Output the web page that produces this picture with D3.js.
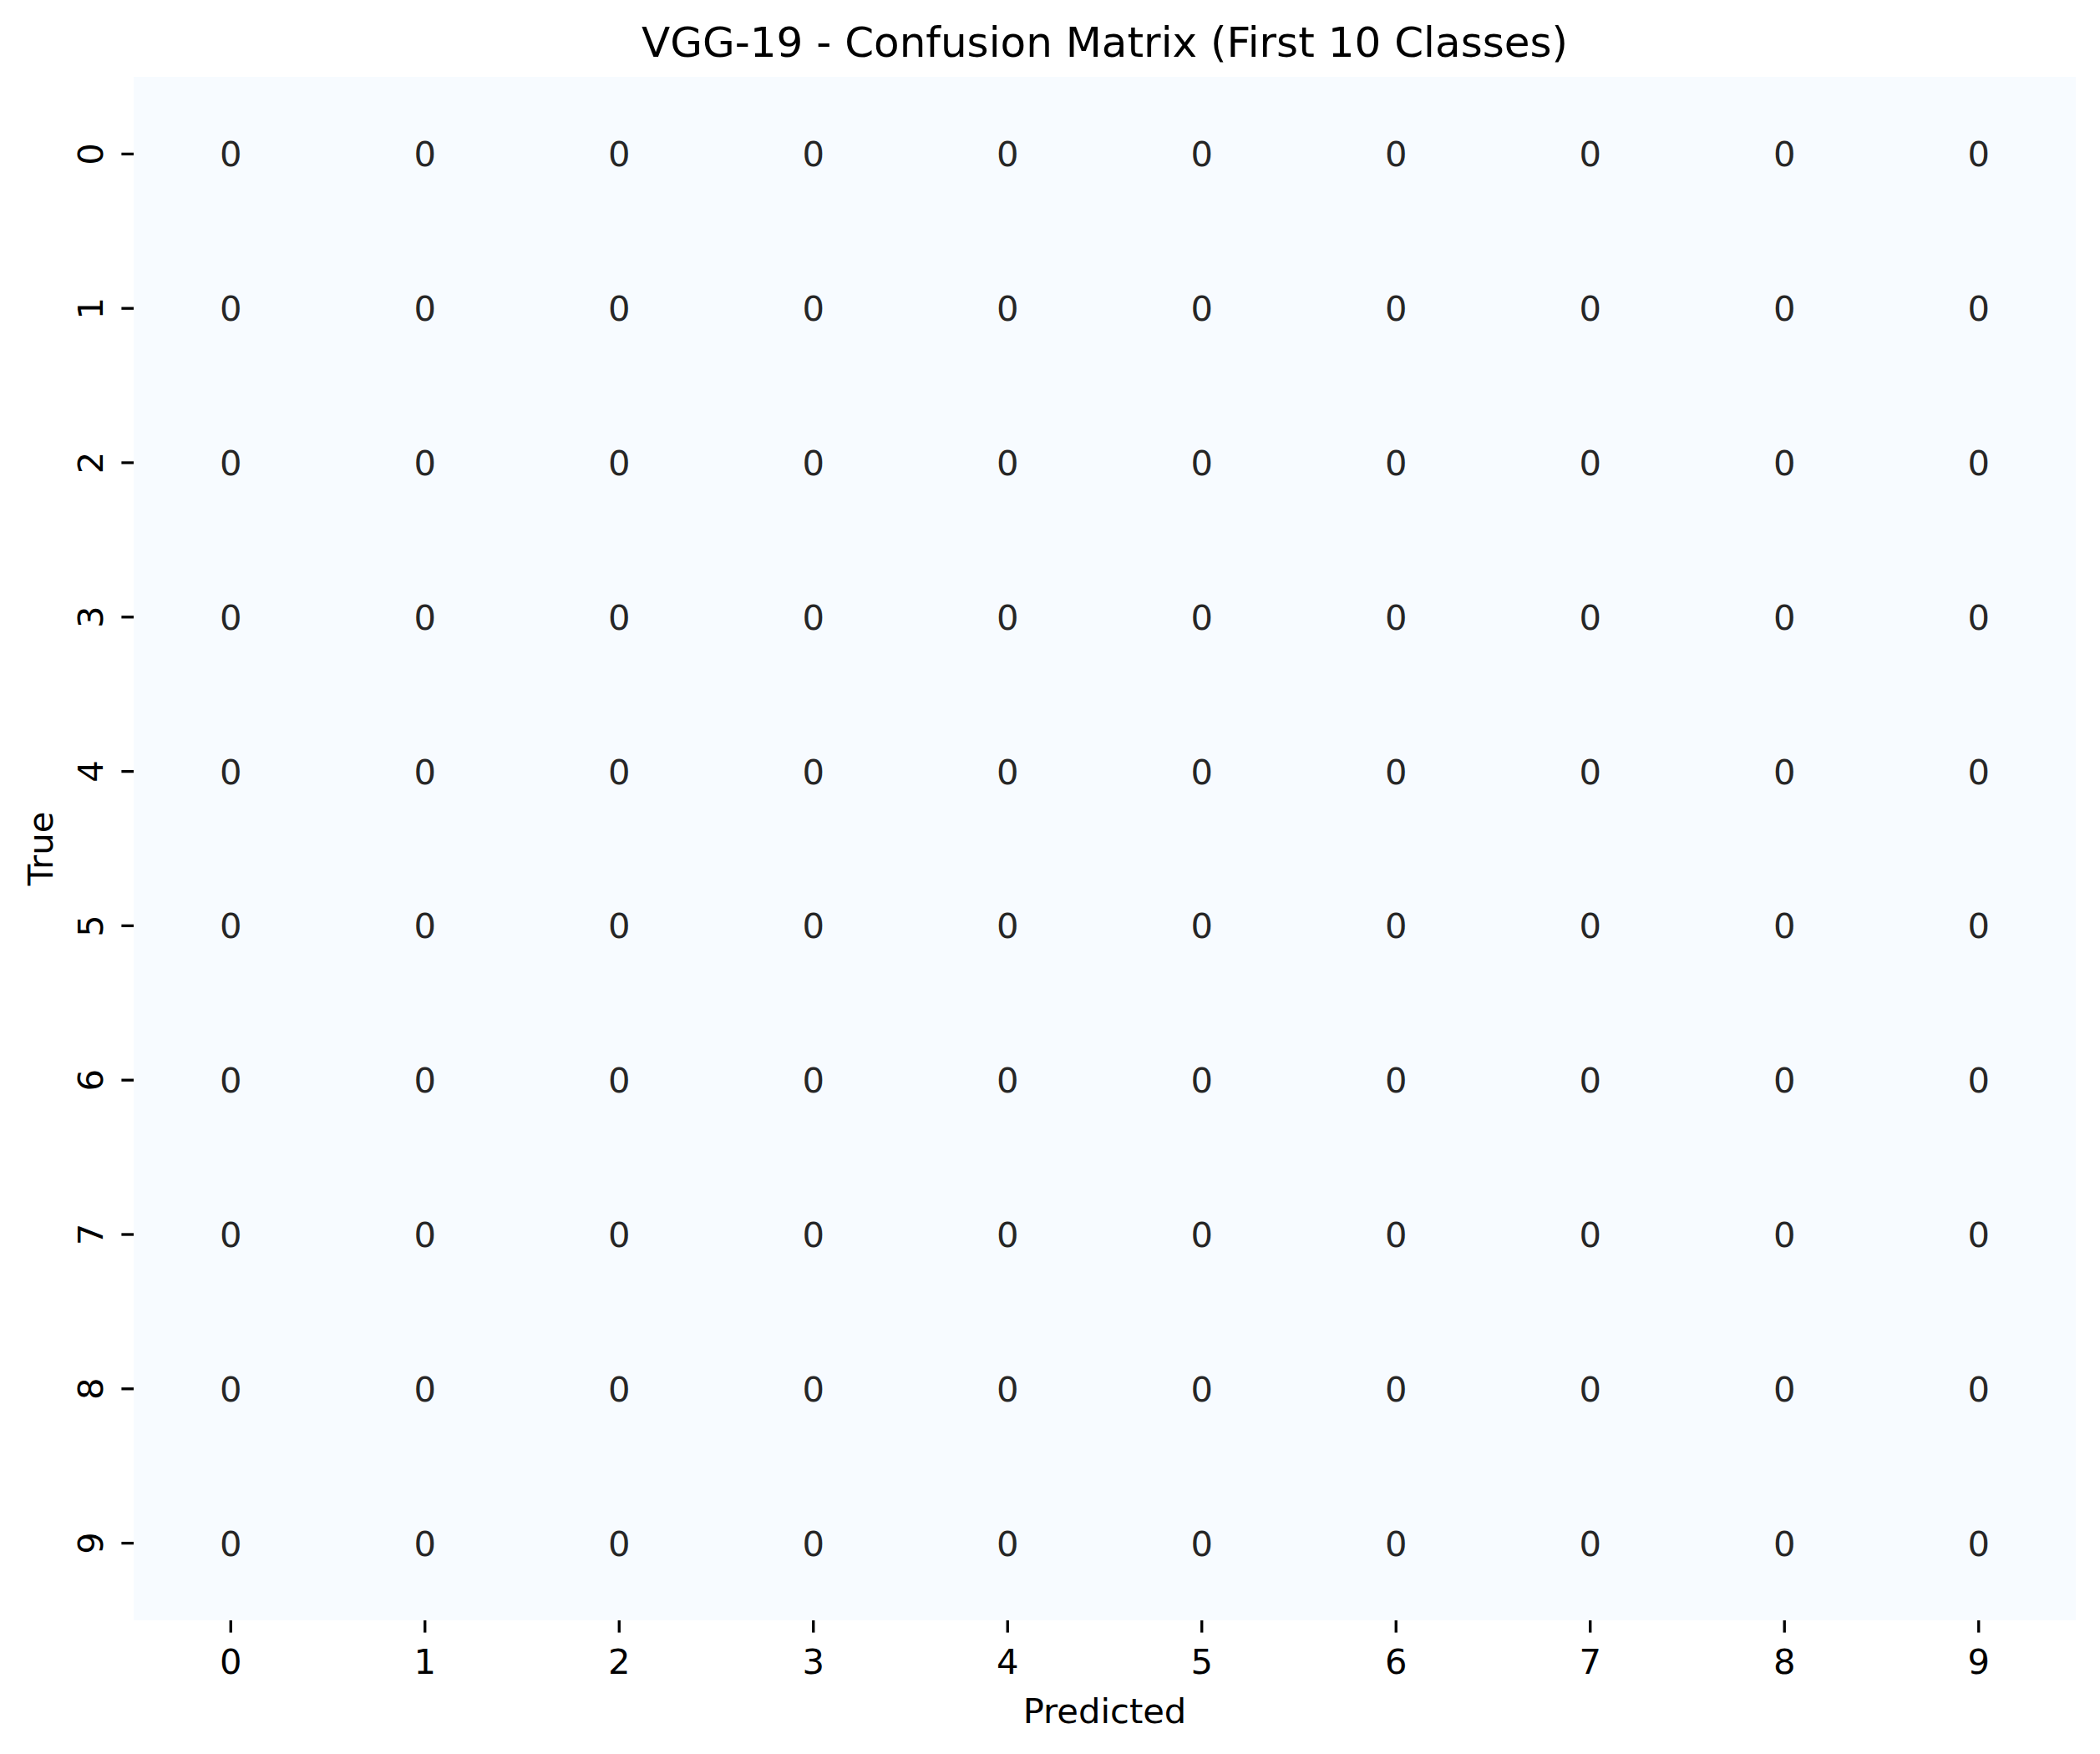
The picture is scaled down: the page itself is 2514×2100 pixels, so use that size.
<!DOCTYPE html>
<html>
<head>
<meta charset="utf-8">
<script src="https://cdn.jsdelivr.net/npm/d3@7"></script>
<style>
  html, body { margin: 0; padding: 0; background: #ffffff; }
  svg { display: block; }
  text { font-family: "DejaVu Sans", sans-serif; }
</style>
</head>
<body>
<script>
// ---- data ----
const predictedLabels = ["0","1","2","3","4","5","6","7","8","9"];
const trueLabels = ["0","1","2","3","4","5","6","7","8","9"];
const row0 = [0,0,0,0,0,0,0,0,0,0];
const row1 = [0,0,0,0,0,0,0,0,0,0];
const row2 = [0,0,0,0,0,0,0,0,0,0];
const row3 = [0,0,0,0,0,0,0,0,0,0];
const row4 = [0,0,0,0,0,0,0,0,0,0];
const row5 = [0,0,0,0,0,0,0,0,0,0];
const row6 = [0,0,0,0,0,0,0,0,0,0];
const row7 = [0,0,0,0,0,0,0,0,0,0];
const row8 = [0,0,0,0,0,0,0,0,0,0];
const row9 = [0,0,0,0,0,0,0,0,0,0];
const matrix = [row0,row1,row2,row3,row4,row5,row6,row7,row8,row9];
const titleText = "VGG-19 - Confusion Matrix (First 10 Classes)";
const xLabelText = "Predicted";
const yLabelText = "True";

// ---- layout ----
const W = 2514, H = 2100;
const mLeft = 160, mRight = 2485, mTop = 92, mBottom = 1940;
const tickLen = 14.6, tickW = 3.33;
const fs = 41.7;

const svg = d3.select("body").append("svg")
  .attr("width", W).attr("height", H)
  .attr("viewBox", `0 0 ${W} ${H}`);
svg.append("rect").attr("width", W).attr("height", H).attr("fill", "#ffffff");

const x = d3.scaleBand().domain(predictedLabels).range([mLeft, mRight]).padding(0);
const y = d3.scaleBand().domain(trueLabels).range([mTop, mBottom]).padding(0);
const maxVal = d3.max(matrix.flat());
const color = d3.scaleSequential(d3.interpolateBlues).domain([0, maxVal > 0 ? maxVal : 1]);

const cells = [];
matrix.forEach((row, i) => row.forEach((v, j) => cells.push({r: trueLabels[i], c: predictedLabels[j], v})));

svg.append("g").selectAll("rect").data(cells).join("rect")
  .attr("x", d => x(d.c))
  .attr("y", d => y(d.r))
  .attr("width", d => x.bandwidth() + (d.c === predictedLabels[predictedLabels.length - 1] ? 0 : 0.5))
  .attr("height", d => y.bandwidth() + (d.r === trueLabels[trueLabels.length - 1] ? 0 : 0.5))
  .attr("fill", d => color(d.v))
  .attr("shape-rendering", "crispEdges");

svg.append("g").selectAll("text").data(cells).join("text")
  .attr("x", d => x(d.c) + x.bandwidth() / 2)
  .attr("y", d => y(d.r) + y.bandwidth() / 2)
  .attr("dy", "0.36em")
  .attr("text-anchor", "middle")
  .attr("font-size", fs)
  .attr("fill", d => d3.hsl(color(d.v)).l > 0.5 ? "#262626" : "#ffffff")
  .text(d => d.v);

// x axis
const gx = svg.append("g").attr("transform", `translate(0,${mBottom})`)
  .call(d3.axisBottom(x).tickSize(tickLen).tickPadding(10));
gx.select(".domain").remove();
gx.selectAll(".tick line").attr("stroke", "#000").attr("stroke-width", tickW);
gx.selectAll(".tick text")
  .attr("y", 64).attr("dy", null)
  .attr("font-size", fs).attr("font-family", "DejaVu Sans, sans-serif")
  .attr("fill", "#000");

// y axis
const gy = svg.append("g").attr("transform", `translate(${mLeft},0)`)
  .call(d3.axisLeft(y).tickSize(tickLen).tickPadding(10));
gy.select(".domain").remove();
gy.selectAll(".tick line").attr("stroke", "#000").attr("stroke-width", tickW);
gy.selectAll(".tick text")
  .attr("x", null).attr("dy", null)
  .attr("text-anchor", "middle")
  .attr("transform", "translate(-37,0) rotate(-90)")
  .attr("font-size", fs).attr("font-family", "DejaVu Sans, sans-serif")
  .attr("fill", "#000");

// title and labels
svg.append("text")
  .attr("x", (mLeft + mRight) / 2).attr("y", 68)
  .attr("text-anchor", "middle").attr("font-size", 50).attr("fill", "#000")
  .text(titleText);

svg.append("text")
  .attr("x", (mLeft + mRight) / 2).attr("y", 2063)
  .attr("text-anchor", "middle").attr("font-size", fs).attr("fill", "#000")
  .text(xLabelText);

svg.append("text")
  .attr("transform", `translate(63,${(mTop + mBottom) / 2}) rotate(-90)`)
  .attr("text-anchor", "middle").attr("font-size", fs).attr("fill", "#000")
  .text(yLabelText);
</script>
</body>
</html>
